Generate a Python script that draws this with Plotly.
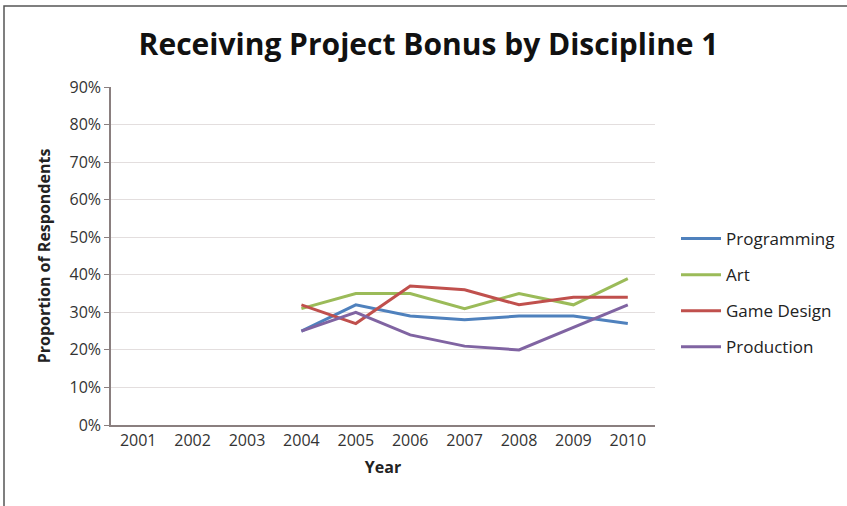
import plotly.graph_objects as go

years = ["2001", "2002", "2003", "2004", "2005", "2006", "2007", "2008", "2009", "2010"]
programming = [None, None, None, 0.25, 0.32, 0.29, 0.28, 0.29, 0.29, 0.27]
art = [None, None, None, 0.31, 0.35, 0.35, 0.31, 0.35, 0.32, 0.39]
game_design = [None, None, None, 0.32, 0.27, 0.37, 0.36, 0.32, 0.34, 0.34]
production = [None, None, None, 0.25, 0.30, 0.24, 0.21, 0.20, 0.26, 0.32]
y_ticks = [0, 0.1, 0.2, 0.3, 0.4, 0.5, 0.6, 0.7, 0.8, 0.9]
y_tick_labels = ["0%", "10%", "20%", "30%", "40%", "50%", "60%", "70%", "80%", "90%"]

series = [
    ("Programming", programming, "#4F81BD"),
    ("Art", art, "#9BBB59"),
    ("Game Design", game_design, "#C0504D"),
    ("Production", production, "#8064A2"),
]

FONT = "'Open Sans', Lato, sans-serif"

fig = go.Figure()
for i, (name, vals, color) in enumerate(series):
    fig.add_trace(go.Scatter(
        x=years, y=vals, name=name, mode="lines",
        line=dict(color=color, width=3),
        legendgroup=f"g{i}",
    ))

L, R, T, B = 111, 192, 87, 81
W, H = 847, 506
pw, ph = W - L - R, H - T - B

fig.update_layout(
    width=W, height=H,
    margin=dict(l=L, r=R, t=T, b=B, autoexpand=False),
    paper_bgcolor="white", plot_bgcolor="white",
    font=dict(family=FONT, color="#333333"),
    title=dict(text="<b>Receiving Project Bonus by Discipline 1</b>",
               x=0.506, xanchor="center", y=1 - 44 / H, yanchor="middle",
               font=dict(size=30, color="#111111", family=FONT)),
    xaxis=dict(
        type="category", categoryorder="array", categoryarray=years,
        ticks="",
        showline=True, linecolor="#8a7f7f", linewidth=1.5,
        showgrid=False,
        tickfont=dict(size=16, color="#333333"),
        title=dict(text="<b>Year</b>", font=dict(size=16, color="#222222"), standoff=12),
        range=[-0.5, 9.5],
    ),
    yaxis=dict(
        range=[0, 0.9], tickvals=y_ticks, ticktext=y_tick_labels,
        ticks="outside", ticklen=5, tickcolor="#8a7f7f",
        showline=True, linecolor="#8a7f7f", linewidth=1.5,
        showgrid=True, gridcolor="#e3dede", gridwidth=1,
        zeroline=False,
        tickfont=dict(size=16, color="#333333"),
        title=dict(text="<b>Proportion of Respondents</b>", font=dict(size=16, color="#222222"), standoff=15),
    ),
    legend=dict(
        x=(676 - L) / pw, xanchor="left",
        y=(H - B - 221) / ph, yanchor="top",
        traceorder="grouped", tracegroupgap=11,
        font=dict(size=17, color="#222222", family=FONT),
        itemwidth=40,
        bgcolor="rgba(0,0,0,0)",
    ),
    showlegend=True,
)

# frame: visible top and left edges of the chart border
fig.add_shape(
    type="rect", xref="paper", yref="paper",
    x0=(4 - L) / pw, x1=(W + 10 - L) / pw,
    y0=(-10 - B) / ph, y1=(H - 6 - B) / ph,
    line=dict(color="#555555", width=1.5), fillcolor="rgba(0,0,0,0)",
    layer="below",
)

fig.write_html(
    "out.html",
    config={"displayModeBar": False},
    post_script="document.body.style.margin='0px';document.body.style.overflow='hidden';",
)
